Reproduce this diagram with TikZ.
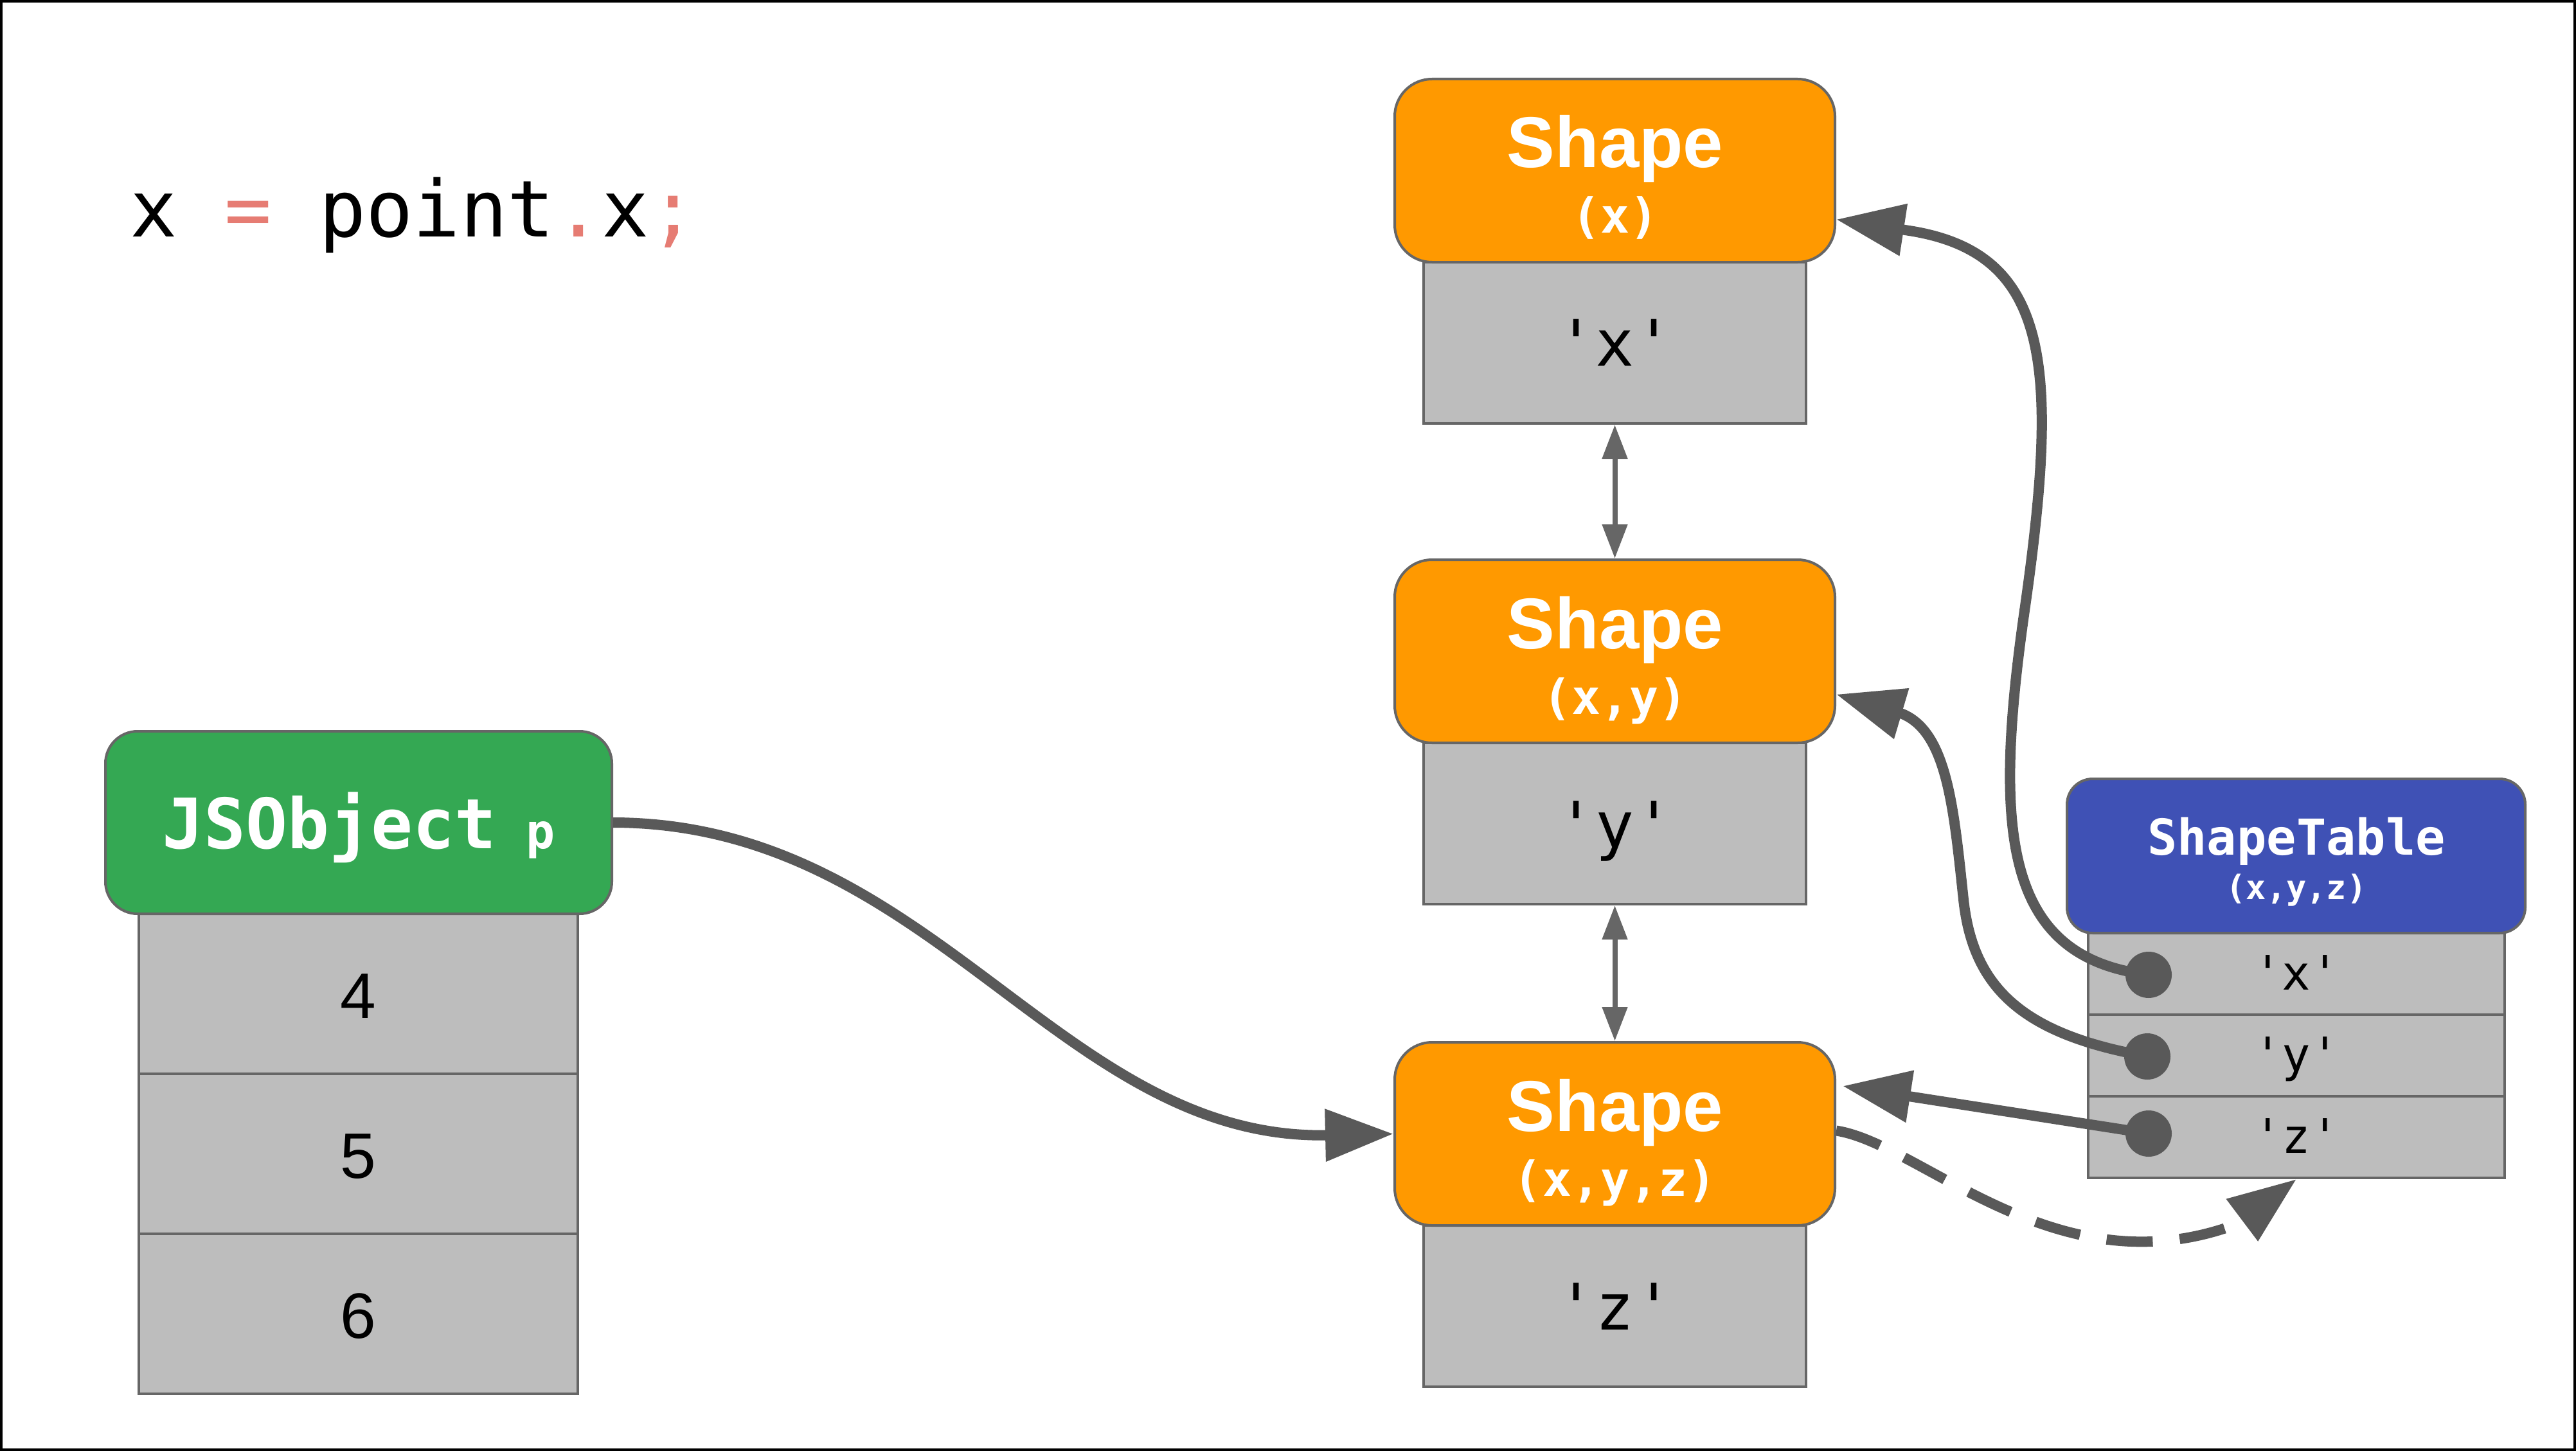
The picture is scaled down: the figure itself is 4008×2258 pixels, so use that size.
\documentclass[tikz,border=0pt]{standalone}
\usepackage{fontspec}
\setmainfont{Liberation Sans}
\newfontfamily\monof[Ligatures=TeXOff]{DejaVu Sans Mono}
\usetikzlibrary{arrows.meta}
\definecolor{orng}{HTML}{FF9900}
\definecolor{grn}{HTML}{34A853}
\definecolor{blu}{HTML}{3F51B5}
\definecolor{gry}{HTML}{BDBDBD}
\definecolor{bord}{HTML}{666666}
\definecolor{dk}{HTML}{595959}
\definecolor{salm}{HTML}{E67C73}
\begin{document}
\begin{tikzpicture}[x=1pt,y=-1pt,
  obox/.style={draw=bord, line width=4pt, fill=orng, rounded corners=58pt, minimum width=685pt, minimum height=285pt, inner sep=0pt},
  gbox/.style={draw=bord, line width=4pt, fill=gry, minimum width=595pt, minimum height=251pt, inner sep=0pt},
  jrow/.style={draw=bord, line width=4pt, fill=gry, minimum width=683pt, minimum height=249pt, inner sep=0pt},
  trow/.style={draw=bord, line width=4pt, fill=gry, minimum width=648pt, minimum height=127pt, inner sep=0pt},
  ttl/.style={anchor=base, inner sep=0pt, text=white, font=\fontsize{112}{112}\selectfont\bfseries},
  sub/.style={anchor=base, inner sep=0pt, text=white, font=\monof\bfseries\fontsize{75}{75}\selectfont},
  glab/.style={anchor=base, inner sep=0pt, text=black, font=\monof\fontsize{100}{100}\selectfont},
  tlab/.style={anchor=base, inner sep=0pt, text=black, font=\monof\fontsize{74}{74}\selectfont},
  num/.style={anchor=base, inner sep=0pt, text=black, font=\fontsize{100}{100}\selectfont},
  dot/.style={circle, fill=dk, minimum size=72pt, inner sep=0pt},
  conn/.style={draw=dk, line width=16pt},
  bigtip/.style={-{Triangle[length=106pt,width=78pt]}},
  dbl/.style={draw=bord, line width=8pt, {Triangle[length=53pt,width=38pt]}-{Triangle[length=53pt,width=38pt]}}
]
\fill[white] (0,0) rectangle (4008,2258);
\useasboundingbox (0,0) rectangle (4008,2258);

% code line
\node[anchor=base west, inner sep=0pt, font=\monof\fontsize{122}{122}\selectfont] (code) at (202,368)
  {x {\color{salm}=} point{\color{salm}.}x{\color{salm};}};

% Shape chain
\node[gbox] (g1) at (2512.5,533.5) {};
\node[obox] (s1) at (2512.5,265.5) {};
\node[gbox] (g2) at (2512.5,1281.5) {};
\node[obox] (s2) at (2512.5,1013.5) {};
\node[gbox] (g3) at (2512.5,2032.5) {};
\node[obox] (s3) at (2512.5,1764.5) {};

\node[ttl] (s1t) at (2513,261) {Shape};
\node[sub] (s1s) at (2513,362) {(x)};
\node[glab] (g1t) at (2513,569) {'x'};
\node[ttl] (s2t) at (2513,1009) {Shape};
\node[sub] (s2s) at (2513,1111) {(x,y)};
\node[glab] (g2t) at (2513,1319) {'y'};
\node[ttl] (s3t) at (2513,1760) {Shape};
\node[sub] (s3s) at (2513,1861) {(x,y,z)};
\node[glab] (g3t) at (2513,2069) {'z'};

% JSObject
\node[jrow] (j1) at (557.5,1546.5) {};
\node[jrow] (j2) at (557.5,1795.5) {};
\node[jrow] (j3) at (557.5,2044.5) {};
\node[draw=bord, line width=4pt, fill=grn, rounded corners=50pt, minimum width=788pt, minimum height=284pt, inner sep=0pt] (js) at (558,1280) {};
\node[anchor=base, inner sep=0pt, text=white] (jst) at (558,1320)
  {\monof\bfseries{\fontsize{108}{108}\selectfont JSObject}{\fontsize{75}{75}\selectfont\ p}};
\node[num] (n4) at (557.5,1584) {4};
\node[num] (n5) at (557.5,1833) {5};
\node[num] (n6) at (557.5,2082) {6};

% ShapeTable
\node[trow] (r1) at (3573,1515.5) {};
\node[trow] (r2) at (3573,1642.5) {};
\node[trow] (r3) at (3573,1769.5) {};
\node[draw=bord, line width=4pt, fill=blu, rounded corners=40pt, minimum width=713pt, minimum height=240pt, inner sep=0pt] (tb) at (3572.5,1332) {};
\node[anchor=base, inner sep=0pt, text=white, font=\monof\bfseries\fontsize{77}{77}\selectfont] (tbt) at (3573,1330) {ShapeTable};
\node[anchor=base, inner sep=0pt, text=white, font=\monof\bfseries\fontsize{52}{52}\selectfont] (tbs) at (3573,1399) {(x,y,z)};
\node[tlab] (r1t) at (3573,1540) {'x'};
\node[tlab] (r2t) at (3573,1667) {'y'};
\node[tlab] (r3t) at (3573,1794) {'z'};

\coordinate (d1) at (3343,1517);
\coordinate (d2) at (3341,1644);
\coordinate (d3) at (3343,1764);

% transition arrows
\draw[dbl] (g1.south) -- (s2.north);
\draw[dbl] (g2.south) -- (s3.north);

% connectors
\draw[conn, bigtip] (js.east) .. controls (1450,1281) and (1650,1775) .. (s3.west);
\draw[conn, bigtip] (d1) .. controls (3120,1490) and (3100,1300) .. (3150,950)
   .. controls (3205,565) and (3190,390) .. (2964,358) -- ([yshift=-76pt]s1.east);
\draw[conn, bigtip] (d2) .. controls (3150,1610) and (3070,1540) .. (3055,1400)
   .. controls (3040,1260) and (3030,1140) .. (2960,1111) -- ([yshift=-67pt]s2.east);
\draw[conn, bigtip] (d3) -- ([xshift=10pt,yshift=74.5pt]s3.east);
\draw[conn, bigtip, dash pattern=on 72pt off 42pt] ([yshift=5pt]s3.east) .. controls (2990,1780) and (3200,2010) .. (3480,1905) -- (r3.south);

\node[dot] (d1n) at (d1) {};
\node[dot] (d2n) at (d2) {};
\node[dot] (d3n) at (d3) {};

% frame
\draw[black, line width=4pt] (2,2) rectangle (4006,2256);
\end{tikzpicture}
\end{document}
